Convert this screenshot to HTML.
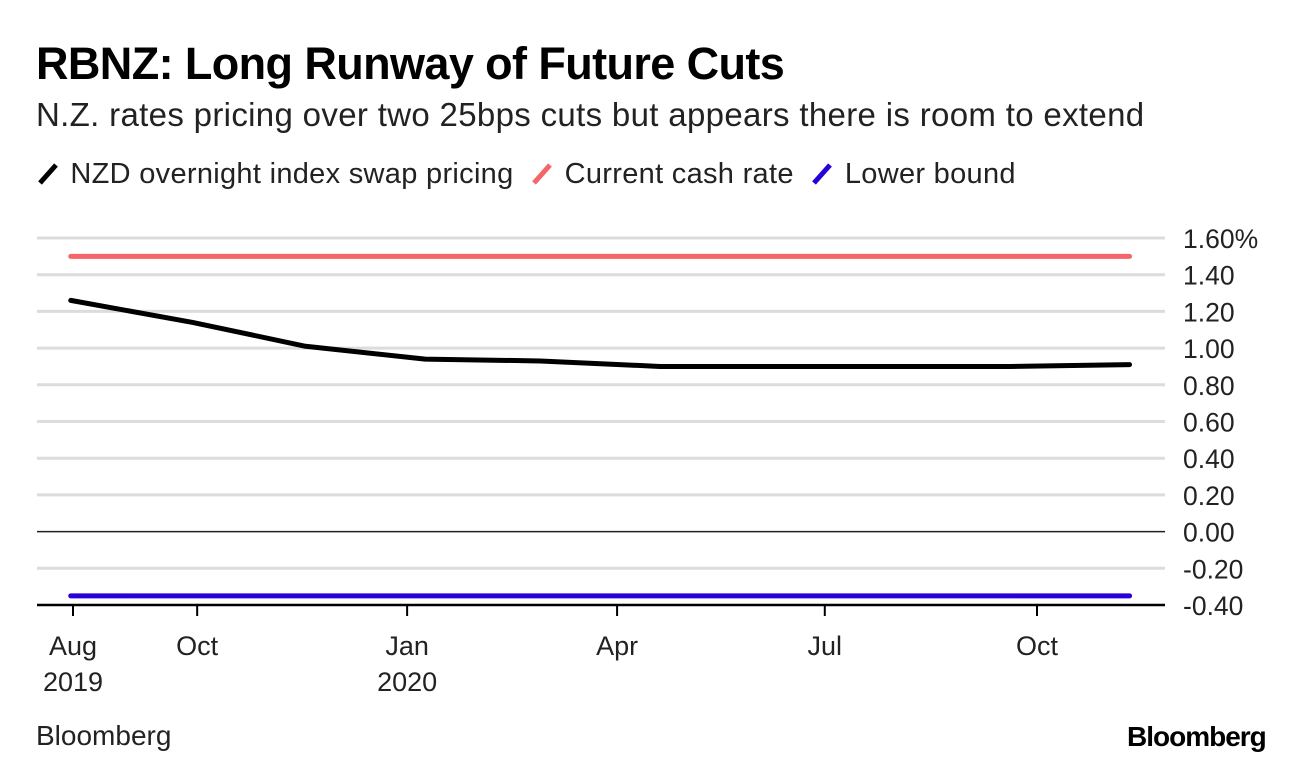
<!DOCTYPE html>
<html><head><meta charset="utf-8">
<style>
body{margin:0;width:1296px;height:768px;background:#fff;font-family:"Liberation Sans",Arial,sans-serif;position:relative;overflow:hidden}
.t{position:absolute;white-space:nowrap}
</style></head><body>
<div class="t" style="left:36px;top:38px;font-size:45px;font-weight:bold;letter-spacing:-0.6px">RBNZ: Long Runway of Future Cuts</div>
<div class="t" style="left:36px;top:96px;font-size:33px;color:#222;letter-spacing:0.33px">N.Z. rates pricing over two 25bps cuts but appears there is room to extend</div>
<div class="t" style="left:36px;top:158px;font-size:29px;color:#222;letter-spacing:0.3px">
<span><svg width="26" height="26" style="vertical-align:-4px"><line x1="4" y1="22" x2="20" y2="4" stroke="#000" stroke-width="5"/></svg> NZD overnight index swap pricing</span>&nbsp;
<span><svg width="26" height="26" style="vertical-align:-4px"><line x1="4" y1="22" x2="20" y2="4" stroke="#f46667" stroke-width="5"/></svg> Current cash rate</span>&nbsp;
<span><svg width="26" height="26" style="vertical-align:-4px"><line x1="4" y1="22" x2="20" y2="4" stroke="#2a00d8" stroke-width="5"/></svg> Lower bound</span>
</div>
<svg id="chart" width="1296" height="768" style="position:absolute;left:0;top:0"></svg>
<div class="t" style="left:36px;top:720px;font-size:28px;color:#222">Bloomberg</div>
<div class="t" style="left:1127px;top:721px;font-size:28px;font-weight:bold;letter-spacing:-1px">Bloomberg</div>
<script>
const yTicks=[1.6,1.4,1.2,1.0,0.8,0.6,0.4,0.2,0,-0.2,-0.4];
const yTickLabels=["1.60%","1.40","1.20","1.00","0.80","0.60","0.40","0.20","0.00","-0.20","-0.40"];
const xTickDates=["2019-08-01","2019-09-25","2019-12-27","2020-03-29","2020-06-29","2020-10-01"];
const xTickLabels=["Aug","Oct","Jan","Apr","Jul","Oct"];
const xTickYears=["2019","","2020","","",""];
const swapDates=["2019-07-31","2019-09-23","2019-11-12","2020-01-04","2020-02-24","2020-04-17","2020-09-19","2020-11-11"];
const swapValues=[1.26,1.14,1.01,0.94,0.93,0.90,0.90,0.91];
const cashRate=1.50;
const lowerBound=-0.35;
const lineStart="2019-07-31", lineEnd="2020-11-11";

const NS="http://www.w3.org/2000/svg";
const svg=document.getElementById('chart');
const d0=Date.parse("2019-08-01"), d1=Date.parse("2020-10-01");
function x(d){return 73+(Date.parse(d)-d0)/(d1-d0)*(1037-73);}
function y(v){return 238+(1.6-v)/2.0*367;}
function mk(tag,attrs){const e=document.createElementNS(NS,tag);for(const k in attrs)e.setAttribute(k,attrs[k]);svg.appendChild(e);return e;}
yTicks.forEach((v,i)=>{
  const g=mk('line',{x1:37,x2:1165,y1:y(v),y2:y(v),stroke:v===0?'#222':(v===-0.4?'#000':'#dcdcdc'),'stroke-width':v===-0.4?2.5:(v===0?1.5:3)});
  
  
  const t=mk('text',{x:1183,y:y(v)+10,'font-size':26.5,fill:'#222','font-family':'Liberation Sans, sans-serif'});
  t.textContent=yTickLabels[i];
  
  
});
xTickDates.forEach((d,i)=>{
  const tk=mk('line',{x1:x(d),x2:x(d),y1:605,y2:616,stroke:'#000','stroke-width':2});
  
  
  const t=mk('text',{x:x(d),y:655,'font-size':27,fill:'#222','text-anchor':'middle','font-family':'Liberation Sans, sans-serif'});
  t.textContent=xTickLabels[i];
  
  
  if(xTickYears[i]){const t2=mk('text',{x:x(d),y:691,'font-size':27,fill:'#222','text-anchor':'middle','font-family':'Liberation Sans, sans-serif'});
  t2.textContent=xTickYears[i];
  
  }
});
const cr=mk('line',{x1:x(lineStart),x2:x(lineEnd),y1:y(cashRate),y2:y(cashRate),stroke:'#f46667','stroke-width':5,'stroke-linecap':'round'});


const lb=mk('line',{x1:x(lineStart),x2:x(lineEnd),y1:y(lowerBound),y2:y(lowerBound),stroke:'#2a00d8','stroke-width':5,'stroke-linecap':'round'});


const sw=mk('polyline',{points:swapDates.map((d,i)=>x(d)+','+y(swapValues[i])).join(' '),fill:'none',stroke:'#000','stroke-width':5,'stroke-linecap':'round','stroke-linejoin':'round'});


</script>
</body></html>
